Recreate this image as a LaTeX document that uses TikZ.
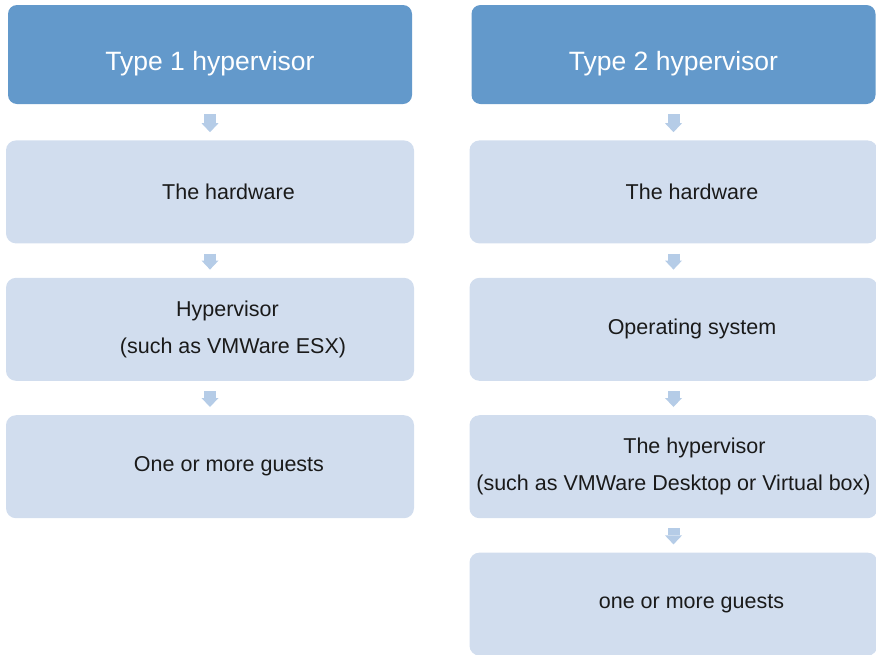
\documentclass[tikz,border=0pt]{standalone}
\usepackage{fontspec}
\setmainfont{Liberation Sans}
\usetikzlibrary{positioning,arrows.meta}
\definecolor{headblue}{HTML}{6399CB}
\definecolor{boxblue}{HTML}{D1DDEE}
\definecolor{arrowblue}{HTML}{B5CCE7}
\definecolor{textgrey}{HTML}{1A1A1A}

\begin{document}
\begin{tikzpicture}[x=1pt,y=-1pt,node distance=34pt]
\tikzset{head/.style = {rectangle, rounded corners=9pt, fill=headblue, text=white, minimum width=404pt, minimum height=99pt, inner sep=0pt, text height=37pt, text depth=5.5pt, font=\fontsize{26.5}{32}\selectfont}}
\tikzset{layer/.style = {rectangle, rounded corners=10pt, fill=boxblue, text=textgrey, minimum width=408pt, minimum height=103pt, inner sep=0pt, align=center, font=\fontsize{21.5}{37}\selectfont}}
\tikzset{down/.style = {-{Triangle[width=17pt,length=9pt,line width=0pt]}, line width=12pt, draw=arrowblue, shorten <=10pt, shorten >=8pt}}

\useasboundingbox (0,0) rectangle (876,654);
\clip (0,0) rectangle (876,654);

% type 1
\node[head] (typeone) at (210,54.5) {Type 1 hypervisor};
\node[layer, below=36pt of typeone] (hwone) {\hspace*{37pt}The hardware};
\node[layer, below=of hwone] (hvone) {\hspace*{35pt}Hypervisor\\\hspace*{46pt}(such as VMWare ESX)};
\node[layer, below=of hvone] (guestone) {\hspace*{38pt}One or more guests};

% type 2
\node[head] (typetwo) at (673.5,54.5) {Type 2 hypervisor};
\node[layer, below=36pt of typetwo] (hwtwo) {\hspace*{37pt}The hardware};
\node[layer, below=of hwtwo] (ostwo) {\hspace*{37pt}Operating system};
\node[layer, below=of ostwo] (hvtwo) {\hspace*{42pt}The hypervisor\\(such as VMWare Desktop or Virtual box)};
\node[layer, below=of hvtwo] (guesttwo) {\hspace*{36pt}one or more guests};

\draw[down] (typeone) -- (hwone);
\draw[down] (hwone) -- (hvone);
\draw[down] (hvone) -- (guestone);
\draw[down] (typetwo) -- (hwtwo);
\draw[down] (hwtwo) -- (ostwo);
\draw[down] (ostwo) -- (hvtwo);
\draw[down] (hvtwo) -- (guesttwo);
\end{tikzpicture}
\end{document}
